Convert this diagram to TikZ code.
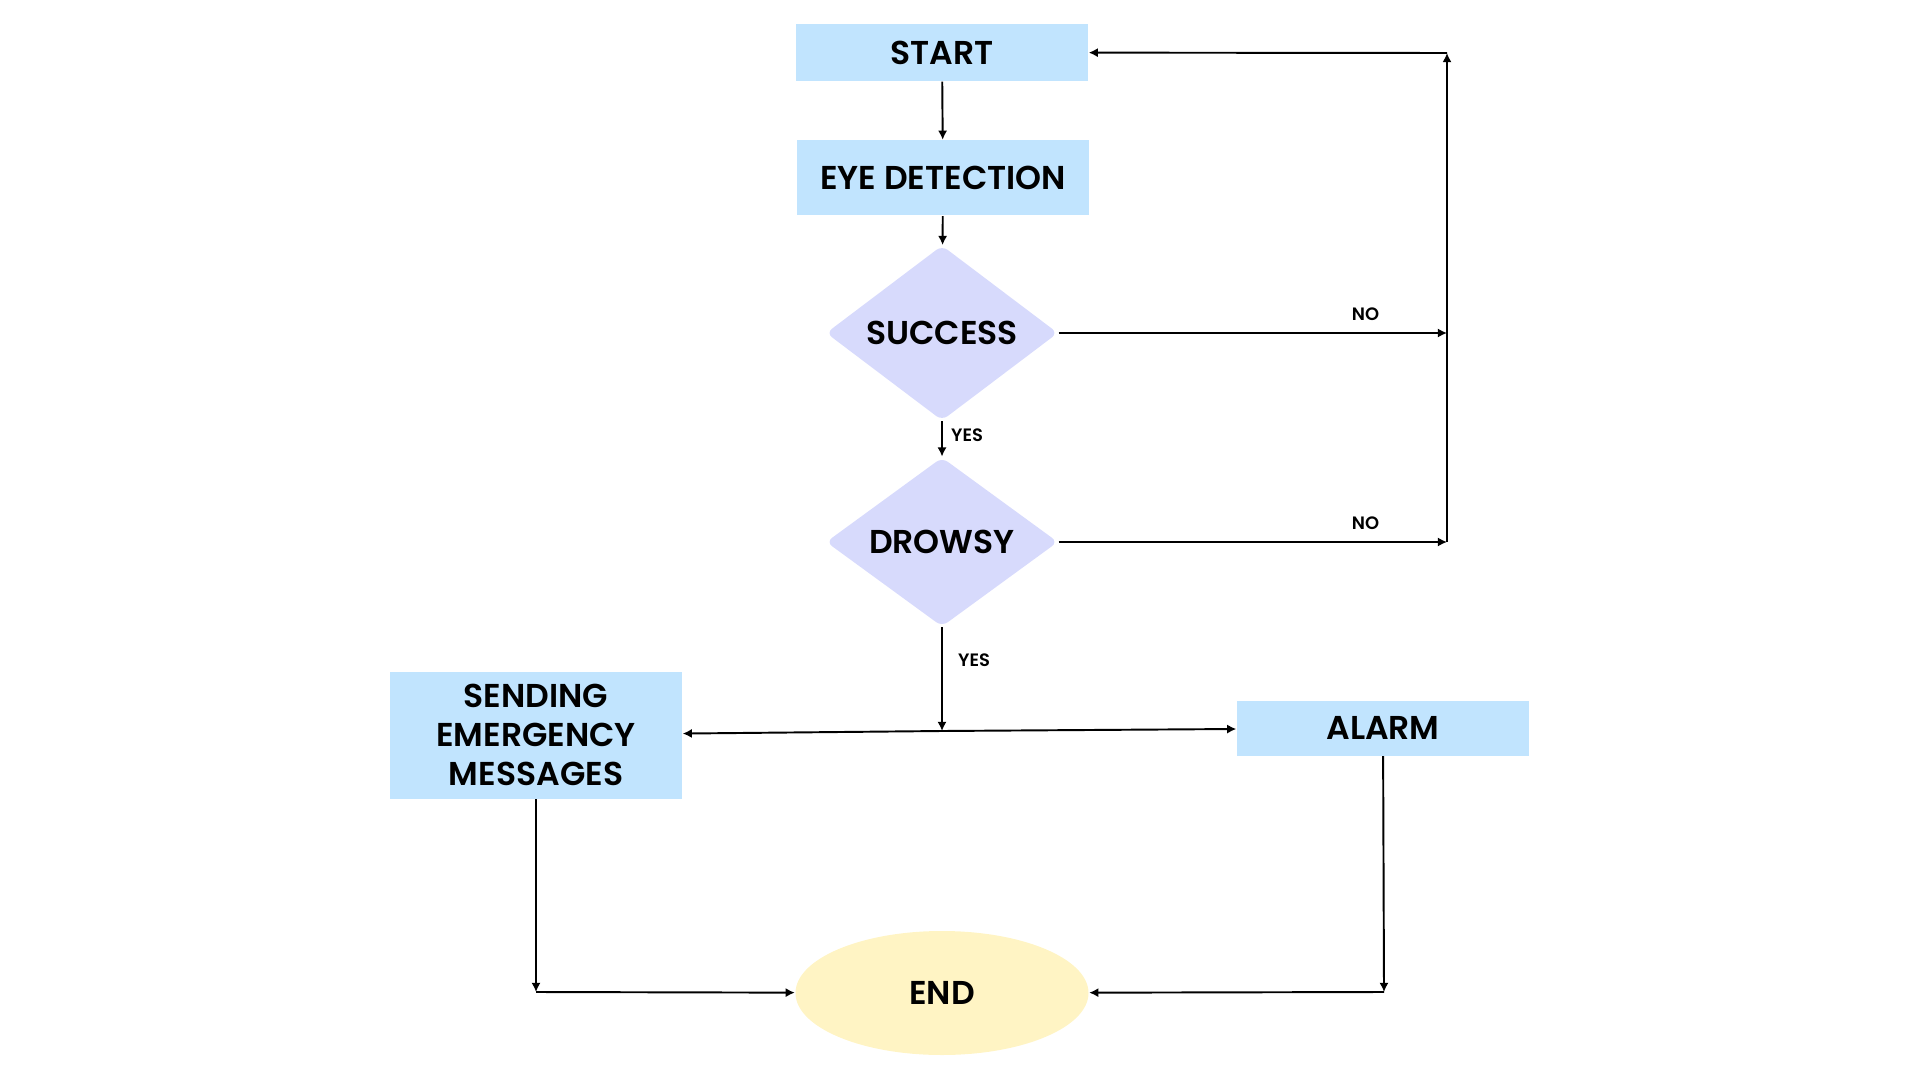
\documentclass[tikz,border=0pt]{standalone}
\usepackage{fontspec}
\IfFontExistsTF{Poppins SemiBold}{\setmainfont{Poppins}[BoldFont=Poppins SemiBold]}{\setmainfont{Poppins}}
\usepackage{tikz}
\usetikzlibrary{shapes.geometric,arrows.meta}

\definecolor{boxblue}{RGB}{193,228,254}
\definecolor{dialilac}{RGB}{215,218,252}
\definecolor{endyellow}{RGB}{255,244,196}

\tikzset{
    stepbox/.style={rectangle, fill=boxblue, minimum width=2.92cm, align=center,
                    font=\fontsize{9.4pt}{11.1pt}\selectfont\bfseries},
    ask/.style={diamond, fill=dialilac, minimum width=2.32cm, minimum height=1.64cm,
                inner sep=0pt, rounded corners=2pt, font=\fontsize{9.4pt}{11.1pt}\selectfont\bfseries},
    stopper/.style={ellipse, fill=endyellow, minimum width=2.93cm, minimum height=1.24cm,
                    font=\fontsize{9.4pt}{11.1pt}\selectfont\bfseries},
    flow/.style={line width=0.55pt, -{Latex[length=2.6pt,width=2.6pt]}},
    tag/.style={font=\fontsize{5.1pt}{6pt}\selectfont\bfseries}
}

\begin{document}
\begin{tikzpicture}
        \useasboundingbox (0,0) rectangle (19.2,-10.8); % same frame as the 1920x1080 picture
        % the boxes
        \node[stepbox, minimum height=0.57cm] (start) at (9.42,-0.525) {START};
        \node[stepbox, minimum height=0.75cm] (eye) at (9.43,-1.78) {EYE DETECTION};
        \node[ask] (success) at (9.42,-3.33) {SUCCESS};
        \node[ask] (drowsy) at (9.42,-5.42) {DROWSY};
        \node[stepbox, minimum height=1.27cm] (send) at (5.36,-7.35) {SENDING\\EMERGENCY\\MESSAGES};
        \node[stepbox, minimum height=0.55cm] (alarm) at (13.83,-7.28) {ALARM};
        \node[stopper] (end) at (9.42,-9.93) {END};
        % corner points of the connectors
        \coordinate (looptop) at (14.47,-0.53);
        \coordinate (loopsuc) at (14.47,-3.33);
        \coordinate (loopdro) at (14.47,-5.42);
        \coordinate (split) at (9.42,-7.31);
        \coordinate (sendcorner) at (5.36,-9.92);
        \coordinate (alarmcorner) at (13.84,-9.92);
        % main line down
        \draw[flow] (start) -- (eye);
        \draw[flow] (eye) -- (success);
        \draw[flow] (success) -- node[tag, right, pos=0.4, xshift=-1pt] {YES} (drowsy);
        \draw[flow] (drowsy) -- node[tag, right, pos=0.32, xshift=1pt] {YES} (split);
        % the NO loop back to start
        \draw[flow] (success) -- node[tag, above, pos=0.79] {NO} (loopsuc);
        \draw[flow] (drowsy) -- node[tag, above, pos=0.79] {NO} (loopdro);
        \draw[flow] (loopdro) -- (looptop);
        \draw[flow] (looptop) -- (start);
        % the two ways out
        \draw[flow] (split) -- (send);
        \draw[flow] (split) -- (alarm);
        \draw[flow] (send) -- (sendcorner);
        \draw[flow] (sendcorner) -- (end);
        \draw[flow] (alarm) -- (alarmcorner);
        \draw[flow] (alarmcorner) -- (end);
    \end{tikzpicture}
\end{document}
